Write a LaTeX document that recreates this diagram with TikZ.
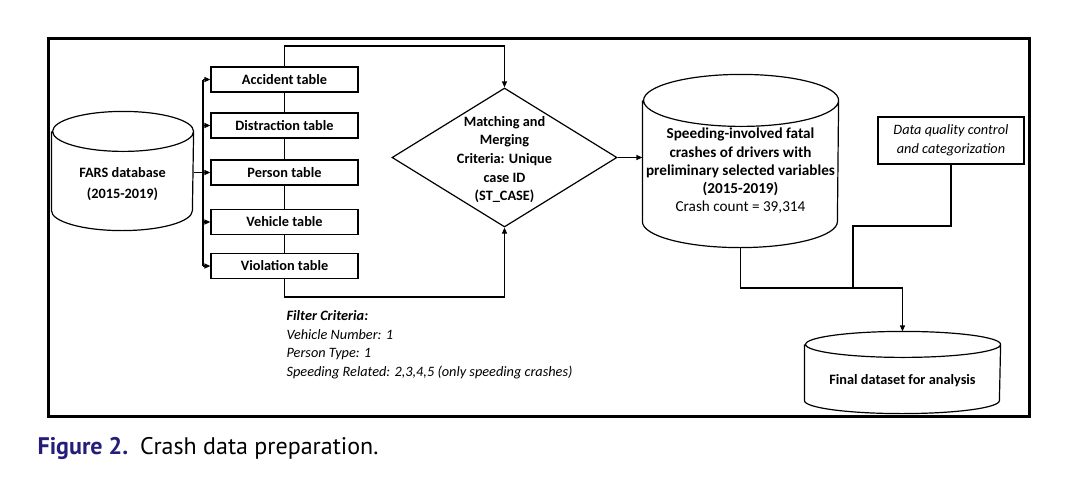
\documentclass[tikz,border=0pt]{standalone}
\usepackage{fontspec}
\setmainfont{Carlito}
\newfontfamily\capfont{PT Sans}
\usetikzlibrary{arrows.meta, positioning, calc, shapes.geometric}
\definecolor{figblue}{HTML}{241E7A}
\newcommand{\dfont}{\fontsize{14.3}{18.6}\selectfont}
% cylinder outline round a node: name, x radius, y radius (pt)
\newcommand{\dbshape}[3]{%
  \draw ([yshift=-#3pt]#1.north west) -- ([yshift=#3pt]#1.south west)
    arc[start angle=180, end angle=360, x radius=#2pt, y radius=#3pt]
    -- ([yshift=-#3pt]#1.north east)
    arc[start angle=0, end angle=360, x radius=#2pt, y radius=#3pt];}

\tikzset{
  arr/.style={-{Triangle[length=6pt, width=5pt]}},
  tablebox/.style={draw, minimum width=147, minimum height=25, inner sep=0pt, font=\dfont\bfseries},
  db/.style={inner sep=0pt},
  dbtext/.style={align=center, font=\dfont\bfseries}
}

\begin{document}
\begin{tikzpicture}[x=1pt, y=-1pt, line width=1.2pt]
\useasboundingbox (0,0) rectangle (1087,493);

% Frame
\draw[line width=3pt] (48,38) rectangle (1029,416);

% Source database
\node[db, minimum width=141, minimum height=118,
  label={[dbtext, yshift=-13pt]center:FARS database\\[2pt](2015-2019)}] (fars) at (122.5,171) {};
\dbshape{fars}{70.5}{20}

% Tables
\node[tablebox] (acc) at (284.5,79.5) {Accident table};
\node[tablebox] (dis) at (284.5,125.5) {Distraction table};
\node[tablebox] (per) at (284.5,172.5) {Person table};
\node[tablebox] (veh) at (284.5,222) {Vehicle table};
\node[tablebox] (vio) at (284.5,266) {Violation table};

% Branches from the database
\coordinate (trunk) at (203,0);
\draw (fars.east |- per.west) -- (trunk |- per.west);
\draw (trunk |- acc.west) -- (trunk |- vio.west);
\foreach \t in {acc,dis,per,veh,vio}
  \draw[arr] (trunk |- \t.west) -- (\t.west);

% Matching step
\node[diamond, draw, minimum width=225, minimum height=139, inner sep=0pt,
  label={[dbtext, yshift=-2pt]center:Matching and\\Merging\\Criteria: Unique\\case ID\\(ST\_CASE)}]
  (match) at (504.5,157.5) {};

\coordinate (topjoin) at (284.5,46);
\coordinate (botjoin) at (284.5,297);
\draw (acc) -- (dis) -- (per) -- (veh) -- (vio);
\draw[arr] (acc.north) -- (topjoin) -| (match.north);
\draw[arr] (vio.south) -- (botjoin) -| (match.south);

% Filter criteria
\node[anchor=north west, align=left, inner sep=0pt, font=\dfont\itshape] (filter) at (286,310)
  {\textbf{Filter Criteria:}\\Vehicle Number: 1\\Person Type: 1\\Speeding Related: 2,3,4,5 (only speeding crashes)};

% Merged data
\node[db, minimum width=195, minimum height=172,
  label={[dbtext, font=\fontsize{15.2}{18.2}\selectfont\bfseries, yshift=-10pt]center:Speeding-involved fatal\\crashes of drivers with\\preliminary selected variables\\(2015-2019)\\\mdseries Crash count = 39,314}]
  (spd) at (740.5,161) {};
\dbshape{spd}{97.5}{26}
\draw[arr] (match.east) -- (spd.west |- match.east);

% Quality control
\node[draw, minimum width=146, minimum height=47, align=center, font=\dfont\itshape] (dq) at (951,140.5)
  {Data quality control\\and categorization};

% Final dataset
\node[db, minimum width=195, minimum height=81,
  label={[dbtext, yshift=-8pt]center:Final dataset for analysis}] (final) at (902.5,372.5) {};
\dbshape{final}{97.5}{13}

\coordinate (join) at (740.5,288);
\coordinate (dqbend) at (853,226);
\draw[arr] (spd.south) -- (join) -| (final.north);
\draw (dq.south) |- (dqbend) -- (dqbend |- join);

% Caption
\node[anchor=base west, inner sep=0pt, font=\capfont\fontsize{24}{26}\selectfont] (caption) at (37,454)
  {{\color{figblue}\bfseries Figure 2.}\hspace{12pt}Crash data preparation.};

\end{tikzpicture}
\end{document}
